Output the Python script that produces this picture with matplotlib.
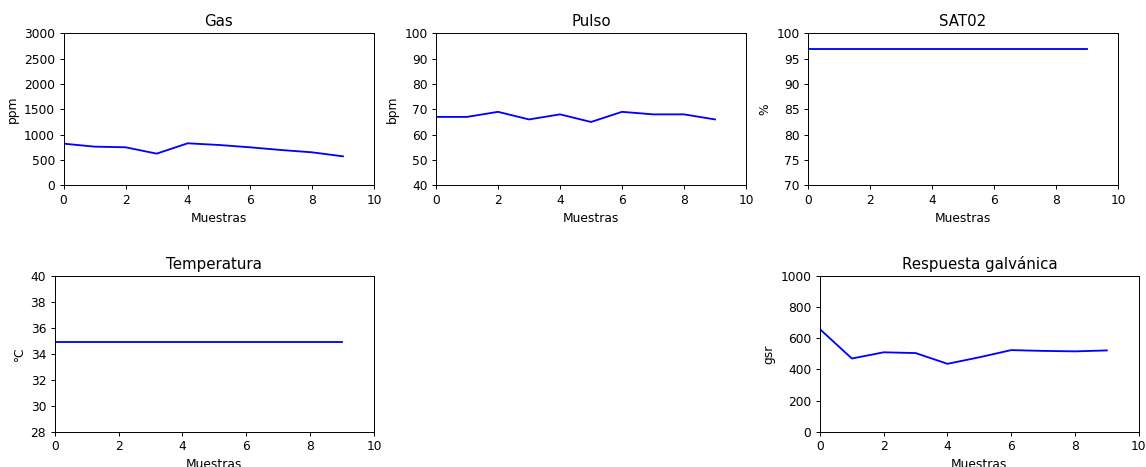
import numpy as np
import matplotlib
matplotlib.use('Agg')
import matplotlib.pyplot as plt

# Datos
muestras = np.arange(10)
gas = [822, 763, 750, 625, 829, 796, 750, 697, 651, 572]
pulso = [67, 67, 69, 66, 68, 65, 69, 68, 68, 66]
sat02 = [97, 97, 97, 97, 97, 97, 97, 97, 97, 97]
temperatura = [34.95] * 10
gsr = [658, 470, 510, 505, 436, 478, 524, 519, 516, 522]

W, H = 1146, 467
DPI = 88
fig = plt.figure(figsize=(W / DPI, H / DPI), dpi=DPI)


def caja(izq, der, arriba, abajo):
    # posicion del eje en pixeles -> fraccion de la figura
    return [izq / W, 1 - abajo / H, (der - izq) / W, (abajo - arriba) / H]


graficas = [
    (caja(63.5, 374, 33.3, 185.3), gas, 'Gas', 'ppm', (0, 3000), 500),
    (caja(436, 746, 33.3, 185.3), pulso, 'Pulso', 'bpm', (40, 100), 10),
    (caja(808, 1118, 33.3, 185.3), sat02, 'SAT02', '%', (70, 100), 5),
    (caja(54.7, 374, 276, 431.7), temperatura, 'Temperatura', '°C', (28, 40), 2),
    (caja(820, 1138.7, 276, 431.7), gsr, 'Respuesta galvánica', 'gsr', (0, 1000), 200),
]

for pos, datos, titulo, unidad, lim, paso in graficas:
    ax = fig.add_axes(pos)
    ax.plot(muestras, datos, color='blue')
    ax.set_xlim(0, 10)
    ax.set_ylim(*lim)
    ax.set_yticks(np.arange(lim[0], lim[1] + paso, paso))
    ax.set_title(titulo, fontsize=12.3)
    ax.set_xlabel('Muestras')
    ax.set_ylabel(unidad)

plt.savefig('out.png', dpi=DPI)
